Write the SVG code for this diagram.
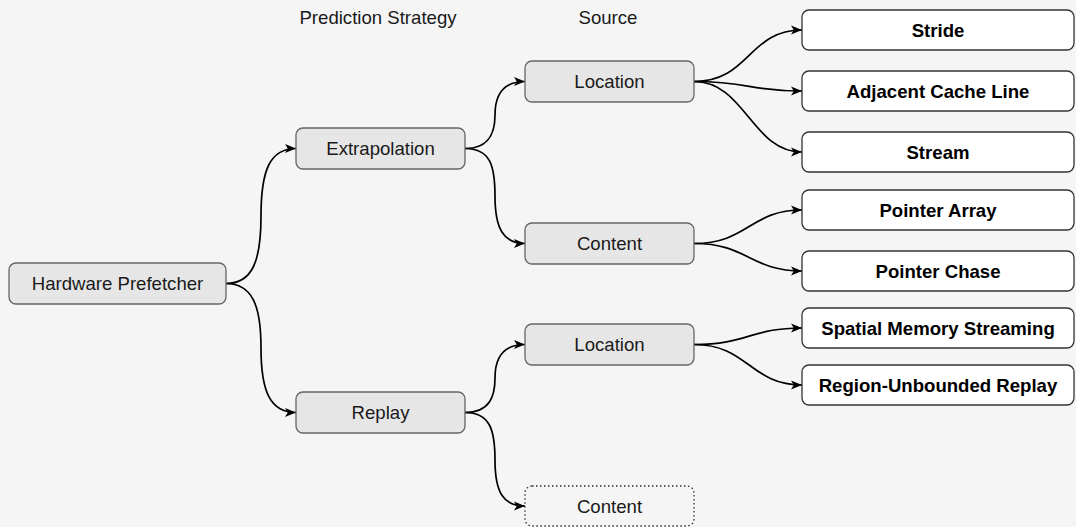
<svg xmlns="http://www.w3.org/2000/svg" width="1076" height="527" viewBox="0 0 1076 527">
<style>
  .n rect { fill: #e6e6e6; stroke: #666666; stroke-width: 1.3; }
  .w rect { fill: #ffffff; stroke: #333333; stroke-width: 1.3; }
  .d rect { fill: none; stroke: #333333; stroke-width: 1.3; stroke-dasharray: 1.5 2.5; }
  text { font-family: "Liberation Sans", Arial, sans-serif; font-size: 18.6px; fill: #1a1a1a; text-anchor: middle; dominant-baseline: central; }
  .w text { font-weight: bold; fill: #000000; }
  #edges path { fill: none; stroke: #000000; stroke-width: 1.7; marker-end: url(#arr); }
</style>
<defs>
  <marker id="arr" markerUnits="userSpaceOnUse" markerWidth="12" markerHeight="11" refX="11" refY="5.5" orient="auto">
    <path d="M0,1 L11,5.5 L0,10 L2.8,5.5 Z" fill="#000000"/>
  </marker>
</defs>
<rect width="1076" height="527" fill="#f5f5f5"/>

<g id="labels">
  <text x="378" y="17">Prediction Strategy</text>
  <text x="608" y="17">Source</text>
</g>

<g id="edges">
  <path d="M226,283.5 C252,283.5 261,262 261,216 C261,170 270,148.5 296,148.5"/>
  <path d="M226,283.5 C252,283.5 261,305 261,348 C261,391 270,412.5 296,412.5"/>
  <path d="M465,148.5 C490,148.5 495,132 495,115 C495,95 503,81.5 525,81.5"/>
  <path d="M465,148.5 C490,148.5 495,165 495,196 C495,228 503,243.5 525,243.5"/>
  <path d="M465,412.5 C490,412.5 495,396 495,378 C495,358 503,344.5 525,344.5"/>
  <path d="M465,412.5 C490,412.5 495,430 495,460 C495,492 503,506 525,506"/>
  <path d="M694,81.5 C750,81.5 748,30 802,30"/>
  <path d="M694,81.5 C750,81.5 748,91 802,91"/>
  <path d="M694,81.5 C745,81.5 752,152 802,152"/>
  <path d="M694,243.5 C748,243.5 750,210 802,210"/>
  <path d="M694,243.5 C748,243.5 750,271 802,271"/>
  <path d="M694,344.5 C748,344.5 750,328 802,328"/>
  <path d="M694,344.5 C748,344.5 750,385 802,385"/>
</g>

<g id="hw" class="n"><rect x="9" y="263" width="217" height="41" rx="7"/><text x="117.5" y="283.5">Hardware Prefetcher</text></g>
<g id="extrapolation" class="n"><rect x="296" y="128" width="169" height="41" rx="7"/><text x="380.5" y="148.5">Extrapolation</text></g>
<g id="replay" class="n"><rect x="296" y="392" width="169" height="41" rx="7"/><text x="380.5" y="412.5">Replay</text></g>
<g id="location1" class="n"><rect x="525" y="61" width="169" height="41" rx="7"/><text x="609.5" y="81.5">Location</text></g>
<g id="content1" class="n"><rect x="525" y="223" width="169" height="41" rx="7"/><text x="609.5" y="243.5">Content</text></g>
<g id="location2" class="n"><rect x="525" y="324" width="169" height="41" rx="7"/><text x="609.5" y="344.5">Location</text></g>
<g id="content2" class="d"><rect x="525" y="486" width="169" height="40" rx="7"/><text x="609.5" y="506">Content</text></g>

<g id="stride" class="w"><rect x="802" y="10" width="272" height="40" rx="7"/><text x="938" y="30">Stride</text></g>
<g id="adjacent" class="w"><rect x="802" y="71" width="272" height="40" rx="7"/><text x="938" y="91">Adjacent Cache Line</text></g>
<g id="stream" class="w"><rect x="802" y="132" width="272" height="40" rx="7"/><text x="938" y="152">Stream</text></g>
<g id="pointerarray" class="w"><rect x="802" y="190" width="272" height="40" rx="7"/><text x="938" y="210">Pointer Array</text></g>
<g id="pointerchase" class="w"><rect x="802" y="251" width="272" height="40" rx="7"/><text x="938" y="271">Pointer Chase</text></g>
<g id="sms" class="w"><rect x="802" y="308" width="272" height="40" rx="7"/><text x="938" y="328">Spatial Memory Streaming</text></g>
<g id="rur" class="w"><rect x="802" y="365" width="272" height="40" rx="7"/><text x="938" y="385">Region-Unbounded Replay</text></g>
</svg>
